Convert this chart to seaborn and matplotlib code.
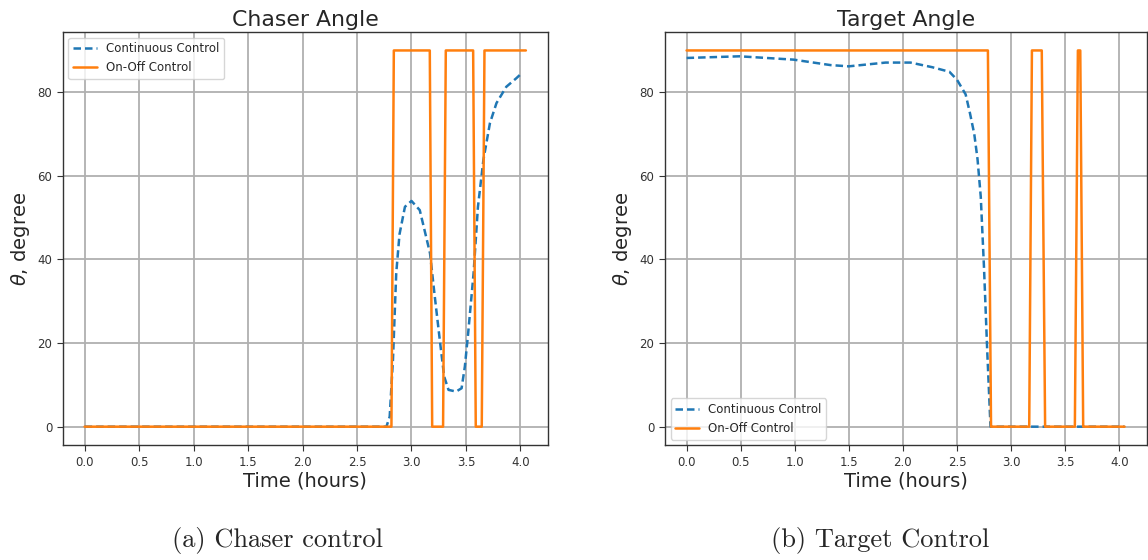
import matplotlib.pyplot as plt
import seaborn as sns
import pandas as pd

# ---------------- data ----------------
# (a) chaser angle
chaser_cont_t = [0.0, 0.5, 1.0, 1.5, 2.0, 2.5, 2.77, 2.80, 2.83, 2.86, 2.89, 2.94, 3.0,
                 3.076, 3.12, 3.17, 3.21, 3.26, 3.30, 3.34, 3.41, 3.46, 3.49, 3.52,
                 3.57, 3.61, 3.66, 3.72, 3.78, 3.87, 3.96, 4.01]
chaser_cont_deg = [0, 0, 0, 0, 0, 0, 0, 2.4, 16, 36.7, 46, 52.6, 54,
                   51.8, 47, 41.5, 32, 20.7, 12, 8.8, 8.4, 9.2, 14.4, 22.3,
                   36.7, 52.6, 63.8, 72.6, 77.4, 81.3, 83.3, 84.5]
chaser_onoff_t = [0.0, 2.816, 2.838, 3.168, 3.19, 3.29, 3.315, 3.566, 3.59, 3.645, 3.67, 4.05]
chaser_onoff_deg = [0, 0, 90, 90, 0, 0, 90, 90, 0, 0, 90, 90]

# (b) target angle
target_cont_t = [0.0, 0.49, 0.99, 1.33, 1.5, 1.84, 2.07, 2.27, 2.43, 2.50, 2.58, 2.62,
                 2.66, 2.69, 2.72, 2.75, 2.78, 2.81, 4.05]
target_cont_deg = [88.2, 88.6, 87.8, 86.5, 86.2, 87.1, 87.1, 86.0, 84.9, 83.0, 79.5, 75,
                   70, 64, 55, 38, 18, 0, 0]
target_onoff_t = [0.0, 2.786, 2.815, 3.168, 3.193, 3.284, 3.315, 3.59, 3.618, 3.64, 3.667, 4.05]
target_onoff_deg = [90, 90, 0, 0, 90, 90, 0, 0, 90, 90, 0, 0]

labels = ["Continuous Control", "On-Off Control"]
titles = ["Chaser Angle", "Target Angle"]
captions = ["(a) Chaser control", "(b) Target Control"]


def make_df(ct, cv, ot, ov):
    a = pd.DataFrame({"t": ct, "theta": cv, "method": labels[0]})
    b = pd.DataFrame({"t": ot, "theta": ov, "method": labels[1]})
    return pd.concat([a, b], ignore_index=True)


dfs = [make_df(chaser_cont_t, chaser_cont_deg, chaser_onoff_t, chaser_onoff_deg),
       make_df(target_cont_t, target_cont_deg, target_onoff_t, target_onoff_deg)]

sns.set_style("ticks")
plt.rcParams['font.family'] = ['DejaVu Sans']

fig = plt.figure(figsize=(11.48, 5.60), dpi=100)
ax1 = fig.add_axes([0.0545, 0.2045, 0.4228, 0.739])
ax2 = fig.add_axes([0.579, 0.2045, 0.4197, 0.739])

for ax, df, title, loc in zip([ax1, ax2], dfs, titles, ["upper left", "lower left"]):
    sns.lineplot(data=df, x="t", y="theta", hue="method", style="method",
                 hue_order=labels, style_order=labels,
                 palette={labels[0]: "#1f77b4", labels[1]: "#ff7f0e"},
                 dashes={labels[0]: (3, 1.6), labels[1]: ""},
                 estimator=None, sort=False, linewidth=1.8, ax=ax)
    ax.set_xlim(-0.2025, 4.2525)
    ax.set_ylim(-4.5, 94.5)
    ax.set_xticks([0, 0.5, 1.0, 1.5, 2.0, 2.5, 3.0, 3.5, 4.0])
    ax.set_yticks([0, 20, 40, 60, 80])
    ax.grid(True, color="#b0b0b0", linewidth=1.3)
    ax.set_axisbelow(True)
    ax.tick_params(labelsize=8.5, colors="#333333", length=4)
    for s in ax.spines.values():
        s.set_color("#333333")
        s.set_linewidth(1.0)
    ax.set_title(title, fontsize=15.8, pad=4)
    ax.set_xlabel("Time (hours)", fontsize=14, labelpad=2)
    ax.set_ylabel(r"$\theta$, degree", fontsize=14)
    sns.move_legend(ax, loc, title=None, fontsize=8.5, frameon=True)

fig.text(0.242, 0.035, captions[0], ha="center", va="center", fontsize=19, family="cmr10")
fig.text(0.767, 0.035, captions[1], ha="center", va="center", fontsize=19, family="cmr10")

fig.savefig("out.png", dpi=100)
